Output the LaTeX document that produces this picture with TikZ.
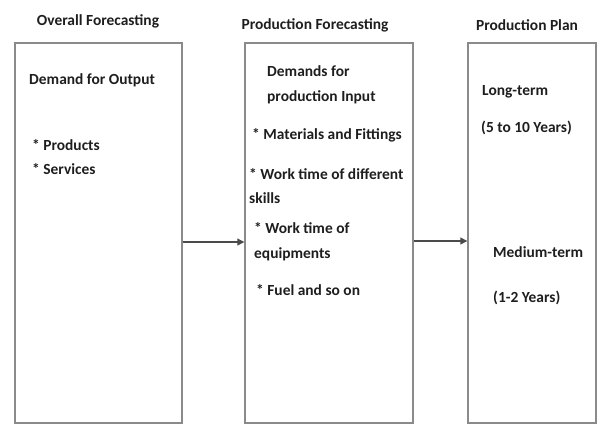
\documentclass[tikz,border=0pt]{standalone}
\usepackage{fontspec}
\setmainfont{Carlito}
\usepackage{xcolor}
\usepackage{tikz}
\usetikzlibrary{arrows.meta, positioning}

\definecolor{boxgray}{HTML}{8A8A8A}
\definecolor{textgray}{HTML}{1E1E1E}

\tikzset{
    box/.style={draw=boxgray, line width=1.4bp, minimum width=#1, minimum height=380bp, inner sep=0pt},
    title/.style={font=\fontsize{15.5}{18}\selectfont\bfseries, text=textgray},
    entry/.style={font=\fontsize{15.5}{25}\selectfont\bfseries, text=textgray, anchor=west, align=left, inner sep=0pt},
    flow/.style={draw=textgray!80, line width=1.2bp, -{Triangle[length=7bp, width=7bp]}}
}

\begin{document}
\begin{tikzpicture}[x=1bp, y=-1bp]
        \useasboundingbox (0,0) rectangle (598,428);

        % column headings
        \node[title] (t1) at (98, 21) {Overall Forecasting};
        \node[title] (t2) at (315, 25) {Production Forecasting};
        \node[title] (t3) at (527, 25) {Production Plan};

        % the three boxes
        \node[box=167bp] (overall) at (98.5, 233) {};
        \node[box=168bp] (prodfc) at (329, 233) {};
        \node[box=128bp] (plan) at (532, 233) {};

        \draw[flow] ([yshift=-9bp]overall.east) -- ([yshift=-9bp]prodfc.west);
        \draw[flow] ([yshift=-8bp]prodfc.east) -- ([yshift=-8bp]plan.west);

        % overall forecasting
        \node[entry] (dout) at (29, 80) {Demand for Output};
        \node[entry] (prod) at (32, 145) {* Products};
        \node[entry] (serv) at (32, 169) {* Services};

        % production forecasting
        \node[entry] (din) at (267, 84.5) {Demands for\\production Input};
        \node[entry] (mat) at (252, 135) {* Materials and Fittings};
        \node[entry] (skill) at (249, 186) {* Work time of different\\skills};
        \node[entry] (equip) at (254, 241.5) {* Work time of\\equipments};
        \node[entry] (fuel) at (256, 290) {* Fuel and so on};

        % production plan
        \node[entry] (long) at (482, 92) {Long-term};
        \node[entry] (lyrs) at (481, 128) {(5 to 10 Years)};
        \node[entry] (mid) at (493, 252) {Medium-term};
        \node[entry] (myrs) at (493, 298) {(1-2 Years)};
    \end{tikzpicture}
\end{document}
